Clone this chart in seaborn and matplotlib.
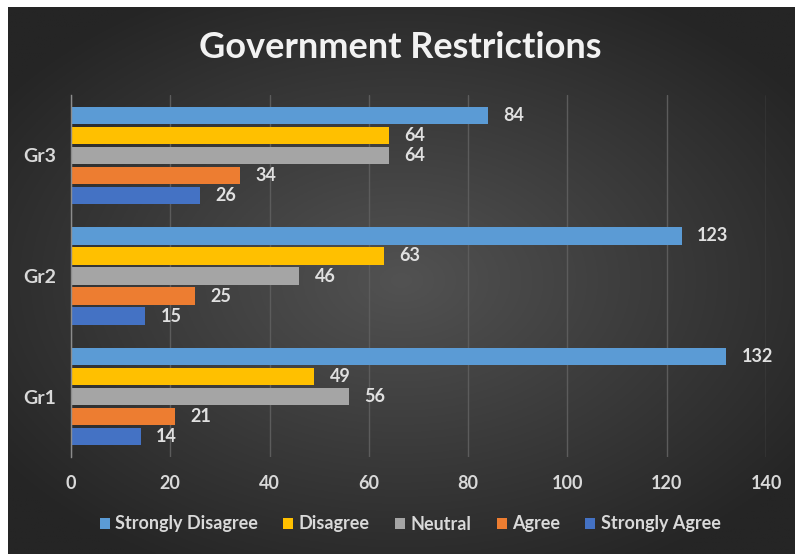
import numpy as np
import pandas as pd
import matplotlib
matplotlib.use("Agg")
import matplotlib.pyplot as plt
import seaborn as sns
from matplotlib.patches import Patch

groups = ["Gr3", "Gr2", "Gr1"]
responses = ["Strongly Disagree", "Disagree", "Neutral", "Agree", "Strongly Agree"]
strongly_disagree = [84, 123, 132]
disagree = [64, 63, 49]
neutral = [64, 46, 56]
agree = [34, 25, 21]
strongly_agree = [26, 15, 14]
colors = ["#5B9BD5", "#FFC000", "#A5A5A5", "#ED7D31", "#4472C4"]
x_ticks = [0, 20, 40, 60, 80, 100, 120, 140]

series = [strongly_disagree, disagree, neutral, agree, strongly_agree]
rows = []
for resp, vals in zip(responses, series):
    for g, v in zip(groups, vals):
        rows.append({"Group": g, "Response": resp, "Value": v})
df = pd.DataFrame(rows)

sns.set_theme(style="dark")
plt.rcParams["font.family"] = ["Lato", "DejaVu Sans"]

fig = plt.figure(figsize=(7.95, 5.54), dpi=100)
fig.patch.set_facecolor("white")

# background radial gradient
bg = fig.add_axes([8/795, 0, 787/795, 547/554], zorder=-10)
yy, xx = np.mgrid[-1:1:300j, -1:1:400j]
r = np.sqrt(xx ** 2 + (yy * 1.05) ** 2)
r = np.clip(r / 1.25, 0, 1)
c_center = np.array([0x52, 0x52, 0x52]) / 255
c_edge = np.array([0x25, 0x25, 0x25]) / 255
img = c_center[None, None, :] * (1 - r[..., None]) + c_edge[None, None, :] * r[..., None]
bg.imshow(img, aspect="auto", extent=[0, 1, 0, 1])
bg.set_axis_off()

ax = fig.add_axes([71/795, 1 - 457/554, (766 - 71)/795, (457 - 95)/554])
ax.set_facecolor("none")
pal = dict(zip(responses, colors))
sns.barplot(data=df, y="Group", x="Value", hue="Response", order=groups,
            hue_order=responses, palette=pal, orient="h", width=0.83, gap=0.14,
            saturation=1, ax=ax, legend=False, edgecolor="none")

for cont in ax.containers:
    ax.bar_label(cont, padding=11, color="#e0e0e0", fontsize=13, fontweight="bold")

ax.set_xlim(0, 140)
ax.set_xticks(x_ticks)
ax.set_xticklabels([str(t) for t in x_ticks], fontweight="bold", fontsize=13)
ax.set_yticks([0, 1, 2])
ax.set_yticklabels(groups, fontweight="bold", fontsize=14)
ax.set_ylim(2.5, -0.5)
ax.set_xlabel("")
ax.set_ylabel("")
ax.grid(axis="x", color="#5c5c5c", linewidth=1)
ax.grid(axis="y", visible=False)
ax.set_axisbelow(True)
for s in ["top", "right", "bottom"]:
    ax.spines[s].set_visible(False)
ax.spines["left"].set_color("#8c8c8c")
ax.spines["left"].set_linewidth(1)
ax.tick_params(axis="both", length=0, colors="#d9d9d9")
ax.tick_params(axis="x", pad=13)
ax.tick_params(axis="y", pad=11)

fig.text(0.503, 1 - 47/554, "Government Restrictions", ha="center", va="center",
         color="#f2f2f2", fontsize=26, fontweight="bold")

handles = [Patch(facecolor=c, edgecolor="none") for c in colors]
leg = fig.legend(handles, responses, loc="center", bbox_to_anchor=(0.516, 1 - 524/554),
                 ncol=5, frameon=False, handlelength=0.55, handleheight=0.55,
                 handletextpad=0.3, columnspacing=1.4,
                 prop={"weight": "bold", "size": 13})
for t in leg.get_texts():
    t.set_color("#d9d9d9")

fig.savefig("out.png", dpi=100, facecolor=fig.get_facecolor())
